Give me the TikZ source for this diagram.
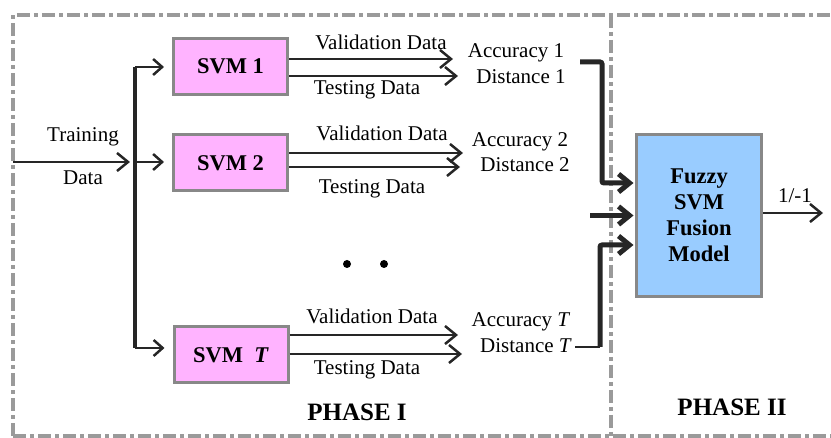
\documentclass[tikz,border=0pt]{standalone}
\usepackage{fontspec}
\setmainfont{Liberation Serif}[BoldFont={Liberation Serif Bold},ItalicFont={Liberation Serif Italic},BoldItalicFont={Liberation Serif Bold Italic}]
\usetikzlibrary{arrows.meta}
\definecolor{ink}{HTML}{262626}
\definecolor{bordergray}{HTML}{9A9A9A}
\definecolor{boxgray}{HTML}{888888}
\definecolor{svmpink}{HTML}{FFB3FF}
\definecolor{fusblue}{HTML}{99CCFF}
\tikzset{
  border/.style={draw=bordergray, line width=4pt, dash pattern=on 13pt off 4pt on 4pt off 4pt},
  svmbox/.style={draw=boxgray, line width=3pt, fill=svmpink, minimum width=114pt, minimum height=56pt, inner sep=0pt, font=\fontsize{22.5}{26}\selectfont\bfseries},
  fusbox/.style={draw=boxgray, line width=3pt, fill=fusblue, minimum width=125pt, minimum height=162pt, inner sep=0pt, align=center, font=\fontsize{22.5}{26}\selectfont\bfseries},
  txt/.style={inner sep=0pt, font=\fontsize{21}{24}\selectfont},
  phase/.style={inner sep=0pt, font=\fontsize{25}{28}\selectfont\bfseries},
  dataarrow/.style={draw=ink, line width=2.5pt, -{Straight Barb[length=11pt,width=18pt]}},
  busarrow/.style={draw=ink, line width=2.5pt, -{Straight Barb[length=9pt,width=16pt]}},
  fusarrow/.style={draw=ink, line width=5pt, rounded corners=2pt, -{Straight Barb[length=11pt,width=18pt]}},
}
\begin{document}
\begin{tikzpicture}[x=1pt,y=-1pt]
\useasboundingbox (0,0) rectangle (831,438);
% borders
\draw[border] (13,436) -- (13,15) -- (831,15);
\draw[border] (13,436) -- (831,436);
\draw[border] (611,15) -- (611,436);

% SVM boxes
\node[svmbox] (svm1) at (230.5,66.5) {\raisebox{-4pt}{SVM 1}};
\node[svmbox] (svm2) at (230.5,163) {\raisebox{-2pt}{SVM 2}};
\node[svmbox] (svmT) at (231,355) {SVM\ \ \textit{T}};

% fusion box
\node[fusbox] (fus) at (699,215.5) {Fuzzy\\SVM\\Fusion\\Model};

% training input and bus
\coordinate (tin) at (13,162);
\coordinate (btop) at (135,67);
\coordinate (bbot) at (135,348);
\draw[dataarrow] (tin) -- (130,162);
\node[txt] (tr1) at (83,137) {Training};
\node[txt] (tr2) at (83,178) {Data};
\draw[ink, line width=3.5pt] (btop) -- (bbot);
\draw[busarrow, shorten >=8pt] (btop) -- (svm1.west |- btop);
\draw[busarrow, shorten >=8pt] (135,162) -- (svm2.west |- 0,162);
\draw[busarrow, shorten >=8pt] (bbot) -- (svmT.west |- bbot);

% outputs of SVM 1
\node[txt] (acc1) at (516,53) {Accuracy 1};
\node[txt] (dis1) at (521,77) {Distance 1};
\draw[dataarrow] (svm1.east |- 0,59) -- (453,59);
\draw[dataarrow] (svm1.east |- 0,76) -- (458,76);
\node[txt] (v1) at (381,42) {Validation Data};
\node[txt] (t1) at (367,90) {Testing Data};

% outputs of SVM 2
\node[txt] (acc2) at (520,142) {Accuracy 2};
\node[txt] (dis2) at (525,165) {Distance 2};
\draw[dataarrow] (svm2.east |- 0,153) -- (463,153);
\draw[dataarrow] (svm2.east |- 0,167) -- (460,167);
\node[txt] (v2) at (382,133) {Validation Data};
\node[txt] (t2) at (372,189) {Testing Data};

% dots
\fill[black] (347,264) circle (4pt);
\fill[black] (384,264) circle (4pt);

% outputs of SVM T
\node[txt] (accT) at (521,322) {Accuracy \textit{T}};
\node[txt] (disT) at (526,346) {Distance \textit{T}};
\draw[dataarrow] (svmT.east |- 0,335) -- (458,335);
\draw[dataarrow] (svmT.east |- 0,354) -- (462,354);
\node[txt] (vT) at (372,316) {Validation Data};
\node[txt] (tT) at (367,370) {Testing Data};

% into fusion
\coordinate (a1) at (580,62);
\coordinate (am) at (590,215.5);
\coordinate (aT) at (575,347);
\draw[fusarrow, shorten >=1.5pt] (a1) -- (602,62) -- (602,183) -- (fus.west |- 0,183);
\draw[fusarrow, shorten >=1.5pt] (am) -- (fus.west);
\draw[ink, line width=1.5pt] (aT) -- (600,347);
\draw[fusarrow, shorten >=1.5pt] (600,347) -- (600,245) -- (fus.west |- 0,245);

% output
\coordinate (out) at (823,213);
\draw[dataarrow] (fus.east |- out) -- (out);
\node[txt] (o) at (795,196) {1/-1};

% phases
\node[phase] (p1) at (357,412) {PHASE I};
\node[phase] (p2) at (732,407) {PHASE II};
\end{tikzpicture}
\end{document}
